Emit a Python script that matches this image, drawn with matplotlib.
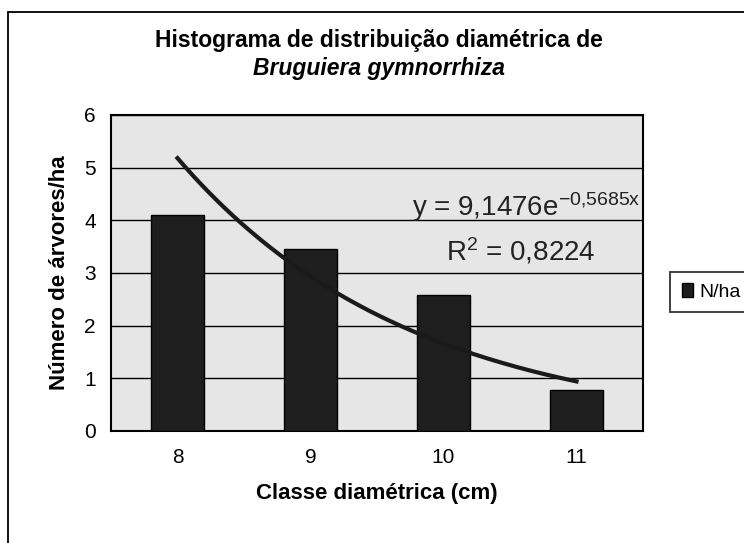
import numpy as np
import matplotlib
matplotlib.use("Agg")
import matplotlib.pyplot as plt
from matplotlib.patches import Rectangle

plt.rcParams['font.family'] = ['Liberation Sans', 'DejaVu Sans']
plt.rcParams['mathtext.default'] = 'regular'
plt.rcParams['axes.unicode_minus'] = False

categories = ["8", "9", "10", "11"]
n_ha = [4.1, 3.45, 2.58, 0.77]
# Excel exponential trendline coefficients (shown on chart)
trend_a = 9.1476
trend_b = -0.5685
yticks = [0, 1, 2, 3, 4, 5, 6]

fig = plt.figure(figsize=(7.44, 5.43), dpi=100)
fig.patch.set_facecolor("white")

# outer chart frame
fig.patches.append(Rectangle((8/744, -0.02), 1.0, (543-12)/543 + 0.02,
                             transform=fig.transFigure, fill=False,
                             edgecolor="black", linewidth=1.3))

ax = fig.add_axes([111/744, (543-431)/543, (643-111)/744, (431-115)/543])
ax.set_facecolor("#e6e6e6")
x = np.arange(1, len(categories) + 1)
ax.bar(x, n_ha, width=0.4, color="#1e1e1e", edgecolor="black", linewidth=1.0, label="N/ha", zorder=3)

xs = np.linspace(1, len(categories), 200)
ax.plot(xs, trend_a * np.exp(trend_b * xs), color="#1a1a1a", linewidth=3.0, zorder=4)

ax.set_xlim(0.5, len(categories) + 0.5)
ax.set_ylim(0, 6)
ax.set_yticks(yticks)
ax.set_yticklabels([str(t) for t in yticks], fontsize=15)
ax.set_xticks(x)
ax.set_xticklabels(categories, fontsize=15)
ax.tick_params(axis="y", length=0, pad=11)
ax.tick_params(axis="x", length=0, pad=12)
ax.yaxis.grid(True, color="black", linewidth=1.0, zorder=1)
ax.set_axisbelow(True)
for s in ax.spines.values():
    s.set_linewidth(1.5)

ax.text(0.995, 0.71, r"y = 9,1476e$^{-0{,}5685x}$", transform=ax.transAxes,
        ha="right", va="center", fontsize=20, color="#222222", zorder=5)
ax.text(0.91, 0.57, r"R$^{2}$ = 0,8224", transform=ax.transAxes,
        ha="right", va="center", fontsize=20, color="#222222", zorder=5)

ax.set_xlabel("Classe diamétrica (cm)", fontsize=16, fontweight="bold", labelpad=12)
ax.set_ylabel("Número de árvores/ha", fontsize=16, fontweight="bold", labelpad=10)

fig.text(379/744, 1 - 40/543, "Histograma de distribuição diamétrica de",
         ha="center", va="center", fontsize=16.5, fontweight="bold")
fig.text(379/744, 1 - 68/543, "Bruguiera gymnorrhiza",
         ha="center", va="center", fontsize=16.5, fontweight="bold", style="italic")

leg = fig.legend(loc="center left", bbox_to_anchor=(670/744, 1 - 292/543), fontsize=14,
                 frameon=True, fancybox=False, edgecolor="black", handlelength=0.6,
                 handleheight=0.7, handletextpad=0.3, borderpad=0.6, borderaxespad=0)
leg.get_frame().set_linewidth(1.3)

fig.savefig("out.png", dpi=100)
